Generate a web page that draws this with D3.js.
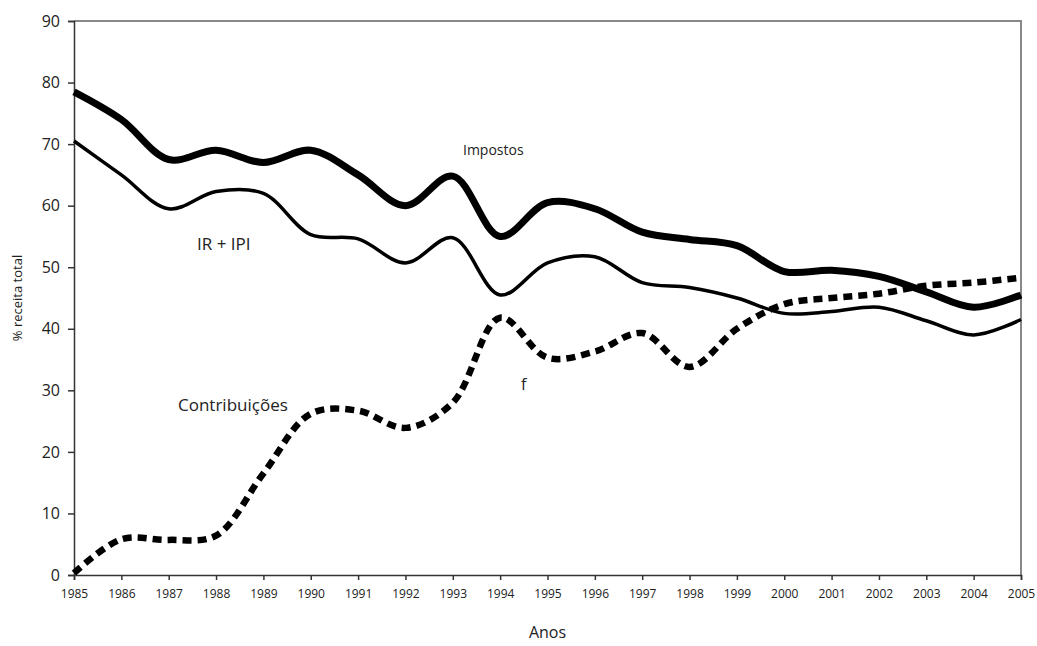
<!DOCTYPE html>
<html>
<head>
<meta charset="utf-8">
<script src="https://cdn.jsdelivr.net/npm/d3@7"></script>
<style>
  body { margin: 0; background: #fff; }
  svg text { font-family: "Open Sans", "Noto Sans", sans-serif; fill: #222; }
</style>
</head>
<body>
<div id="chart"></div>
<script>
var years = d3.range(1985, 2006);
var impostos = [78.5, 74, 67.5, 69, 67, 69, 65, 60, 64.8, 55, 60.5, 59.5, 55.7, 54.5, 53.5, 49.3, 49.5, 48.5, 46, 43.5, 45.5];
var irIpi = [70.5, 65, 59.5, 62.3, 62, 55.3, 54.6, 50.7, 54.8, 45.5, 50.7, 51.7, 47.5, 46.7, 45, 42.5, 42.8, 43.5, 41.3, 39, 41.5];
var contrib = [0.3, 5.8, 5.7, 6.4, 16.5, 26.2, 26.7, 23.9, 28, 41.8, 35.3, 36.3, 39.3, 33.8, 40, 44, 45, 45.7, 47, 47.5, 48.3];
var yTicks = [0, 10, 20, 30, 40, 50, 60, 70, 80, 90];

var svg_hw = {width: 1037, height: 646};
var margin = ({top: 21, right: 16, bottom: 71, left: 74});

var x = d3.scaleLinear()
  .domain([1985, 2005])
  .range([margin.left, svg_hw.width - margin.right]);
var y = d3.scaleLinear()
  .domain([0, 90])
  .range([svg_hw.height - margin.bottom, margin.top]);

const svg = d3.select("#chart")
  .append("svg")
  .attr("width", svg_hw.width)
  .attr("height", svg_hw.height);

// plot frame (top + right in gray)
svg.append("path")
  .attr("d", `M${x(1985)},${y(90)}H${x(2005)}V${y(0)}`)
  .attr("fill", "none")
  .attr("stroke", "#888")
  .attr("stroke-width", 2);

var yAxis = g => g
  .attr("transform", `translate(${margin.left},0)`)
  .call(d3.axisLeft(y).tickValues(yTicks).tickSize(6).tickPadding(8))
  .call(g => g.selectAll("path,line").attr("stroke", "#333").attr("stroke-width", 1.5))
  .call(g => g.selectAll("text").attr("font-size", 16).attr("font-family", "Open Sans"));

var xAxis = g => g
  .attr("transform", `translate(0,${y(0)})`)
  .call(d3.axisBottom(x).tickValues(years).tickFormat(d3.format("d")).tickSize(5).tickPadding(9))
  .call(g => g.selectAll("path,line").attr("stroke", "#333").attr("stroke-width", 1.5))
  .call(g => g.selectAll("text").attr("font-size", 12).attr("font-family", "Open Sans"));

svg.append("g").call(yAxis);
svg.append("g").call(xAxis);

var line = d3.line()
  .x((d, i) => x(years[i]))
  .y(d => y(d))
  .curve(d3.curveCatmullRom.alpha(0.5));

svg.append("path")
  .datum(impostos)
  .attr("d", line)
  .attr("fill", "none")
  .attr("stroke", "#000")
  .attr("stroke-width", 7);

svg.append("path")
  .datum(irIpi)
  .attr("d", line)
  .attr("fill", "none")
  .attr("stroke", "#000")
  .attr("stroke-width", 3.5);

svg.append("path")
  .datum(contrib)
  .attr("d", line)
  .attr("fill", "none")
  .attr("stroke", "#000")
  .attr("stroke-width", 6.5)
  .attr("stroke-dasharray", "9,6");

// labels
var notes = [
  {t: "Impostos", x: 463, y: 155, s: 14},
  {t: "IR + IPI", x: 197, y: 250, s: 17},
  {t: "Contribuições", x: 178, y: 411, s: 17},
  {t: "f", x: 521, y: 390, s: 16}
];
svg.append("g")
  .selectAll("text")
  .data(notes)
  .join("text")
  .attr("x", d => d.x)
  .attr("y", d => d.y)
  .attr("font-size", d => d.s)
  .text(d => d.t);

svg.append("text")
  .attr("x", (x(1985) + x(2005)) / 2)
  .attr("y", 638)
  .attr("text-anchor", "middle")
  .attr("font-size", 16)
  .text("Anos");

svg.append("text")
  .attr("transform", `translate(22,${y(45)}) rotate(-90)`)
  .attr("text-anchor", "middle")
  .attr("font-size", 13)
  .text("% receita total");
</script>
</body>
</html>
